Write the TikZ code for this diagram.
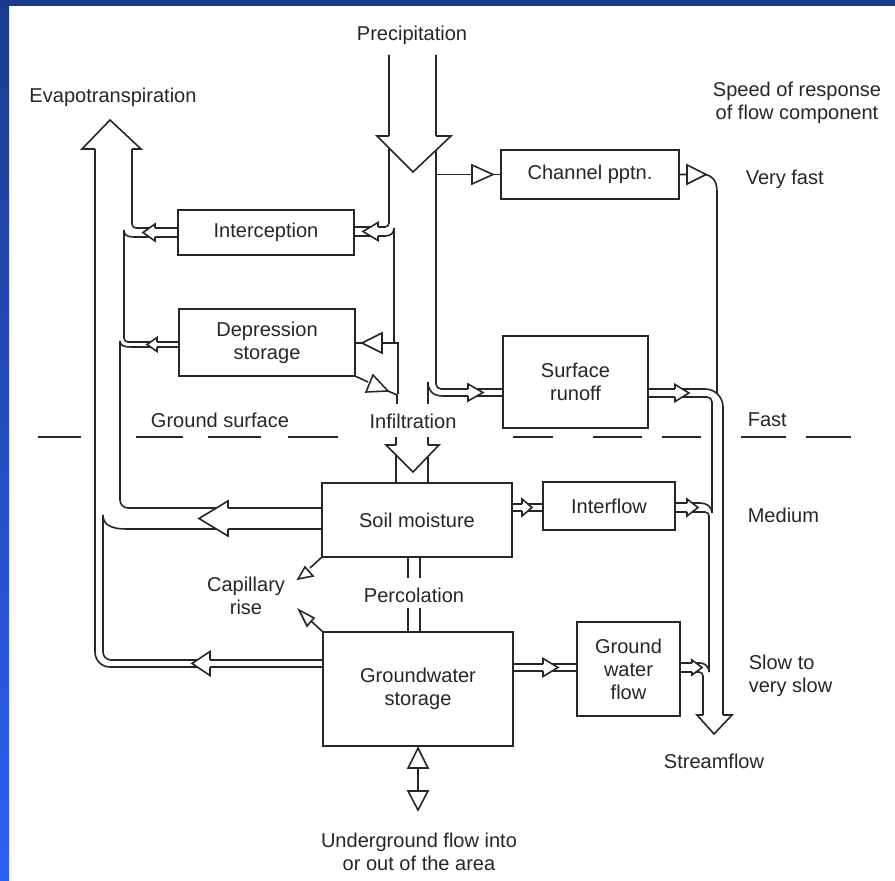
\documentclass[tikz,border=0pt]{standalone}
\usepackage{fontspec}
\setmainfont{Liberation Sans}
\usepackage{tikz}
\definecolor{ink}{RGB}{38,38,38}
\definecolor{frametop}{RGB}{28,58,140}
\definecolor{framelow}{RGB}{44,96,245}

\begin{document}
\begin{tikzpicture}[x = 0.02cm, y = -0.02cm, color = ink, line width = 0.9pt,
    every node/.style = {font = \fontsize{11.4pt}{13.1pt}\selectfont, text = ink, inner sep = 0pt},
    box/.style = {draw = ink, rectangle, outer sep = 0pt, align = center},
    lbl/.style = {align = center, yshift = -0.04cm}]
                \fill[white] (0,0) rectangle (895,881);
                \fill[frametop] (0,0) rectangle (895,6);
                \shade[top color = frametop, bottom color = framelow] (0,0) rectangle (9,881);
                \useasboundingbox (0,0) rectangle (895,881);

                \node[box, minimum width = 3.52cm, minimum height = 0.90cm] (intc) at (266,232.5) {Interception};
                \node[box, minimum width = 3.52cm, minimum height = 1.34cm] (depr) at (267,342.5) {Depression\\storage};
                \node[box, minimum width = 3.56cm, minimum height = 0.98cm] (chan) at (590,174.5) {Channel pptn.};
                \node[box, minimum width = 2.90cm, minimum height = 1.84cm] (surf) at (575.5,382) {Surface\\runoff};
                \node[box, minimum width = 3.80cm, minimum height = 1.48cm] (soil) at (417,520) {Soil moisture};
                \node[box, minimum width = 2.64cm, minimum height = 0.96cm] (intf) at (609,506) {Interflow};
                \node[box, minimum width = 3.80cm, minimum height = 2.28cm] (gws) at (418,689) {Groundwater\\storage};
                \node[box, minimum width = 2.06cm, minimum height = 1.88cm] (gwf) at (628.5,669) {Ground\\water\\flow};

                \node[lbl] (precip) at (412,33) {Precipitation};
                \node[lbl] (evap) at (113,95) {Evapotranspiration};
                \node[lbl] (speed) at (797,101) {Speed of response\\of flow component};
                \node[lbl, anchor = west] (vfast) at (745,177) {Very fast};
                \node[lbl, anchor = west] (fast) at (747,418) {Fast};
                \node[lbl, anchor = west] (medium) at (747,513) {Medium};
                \node[lbl, anchor = west, align = left] (slow) at (748,673.5) {Slow to\\very slow};
                \node[lbl] (ground) at (220,418) {Ground surface};
                \node[lbl] (infil) at (413,419) {Infiltration};
                \node[lbl] (capil) at (246,594) {Capillary\\rise};
                \node[lbl] (perc) at (414,593) {Percolation};
                \node[lbl] (stream) at (714,759) {Streamflow};
                \node[lbl] (under) at (419,850) {Underground flow into\\or out of the area};

                \foreach \a/\b in {38/81, 136/183, 208/261, 288/338, 513/553, 593/642, 662/701, 741/786, 806/851}
                \draw (\a,437) -- (\b,437);

                \draw[rounded corners = 0.3cm] (95,149) -- (95,667) -- (gws.west |- 0,667);
                \draw[rounded corners = 0.16cm] (103,515) -- (103,660) -- (gws.west |- 0,660);
                \draw (soil.west |- 0,529) -- (127,529) .. controls (108,529) and (103,523) .. (103,515);
                \draw[rounded corners = 0.16cm] (soil.west |- 0,508) -- (120,508) -- (120,341);
                \draw (depr.west |- 0,347) -- (131,347) .. controls (123,347) and (120,345) .. (120,341);
                \draw[rounded corners = 0.08cm] (depr.west |- 0,342) -- (124,342) -- (124,230);
                \draw (intc.west |- 0,237) -- (134,237) .. controls (127,237) and (124,235) .. (124,230);
                \draw[rounded corners = 0.08cm] (intc.west |- 0,228) -- (132,228) -- (132,149);

                \draw[rounded corners = 0.08cm] (389,55) -- (389,227) -- (intc.east |- 0,227);
                \draw (intc.east |- 0,236) -- (385,236) .. controls (391,236) and (394,233) .. (394,228) -- (394,343);
                \draw (depr.east |- 0,343) -- (398,343) -- (398,394);
                \draw (depr.south east) -- (368,382);
                \draw (388,391) -- (397,395) -- (397,404);
                \draw[rounded corners = 0.1cm] (436,55) -- (436,389) -- (surf.west |- 0,389);
                \draw (surf.west |- 0,396) -- (443,396) .. controls (432,396) and (428,390) .. (428,382) -- (428,404);
                \draw (396,437) -- (396,483);
                \draw (428,437) -- (428,483);
                \draw (436,174.5) -- (chan.west);
                \draw (chan.east) -- (705,174.5) .. controls (713,176) and (717,181) .. (717,192) -- (717,393);

                \draw[rounded corners = 0.36cm] (surf.east |- 0,389) -- (723,389) -- (723,715);
                \draw[rounded corners = 0.1cm] (surf.east |- 0,397) -- (712,397) -- (712,513);
                \draw (intf.east |- 0,503) -- (700,503) .. controls (707,503) and (712,507) .. (712,513);
                \draw[rounded corners = 0.08cm] (intf.east |- 0,512) -- (709,512) -- (709,672);
                \draw (gwf.east |- 0,663) -- (700,663) .. controls (705,663) and (709,667) .. (709,672);
                \draw[rounded corners = 0.08cm] (gwf.east |- 0,672) -- (703,672) -- (703,715);

                \draw (soil.east |- 0,504) -- (intf.west |- 0,504);
                \draw (soil.east |- 0,511) -- (intf.west |- 0,511);
                \draw (gws.east |- 0,664) -- (gwf.west |- 0,664);
                \draw (gws.east |- 0,671) -- (gwf.west |- 0,671);
                \draw (408,557) -- (408,578);
                \draw (420,557) -- (420,578);
                \draw (408,608) -- (408,632);
                \draw (420,608) -- (420,632);
                \draw (soil.south west) -- (310,568);
                \draw (gws.north west) -- (311,621);
                \draw (418,768) -- (418,791);

                \foreach \bx/\tx/\yc/\hw/\hs in {155/143/232.5/8.5/4.5, 378/363/231.5/9/4.5, 157/147/344.5/7/2.5, 468/483/392.5/8.5/3.5, 675/689/393/8.5/4, 522/532/507.5/8.5/3.5, 687/698/507.5/8.5/4.5, 543/558/667.5/9/3.5, 692/702/667.5/7.5/4.5, 210/192/663.5/12/3.5, 228/199/518.5/17.5/10.5}
                {
                \fill[white] (\bx,\yc-\hw) -- (\tx,\yc) -- (\bx,\yc+\hw) -- cycle;
                \draw (\bx,\yc-\hs) -- (\bx,\yc-\hw) -- (\tx,\yc) -- (\bx,\yc+\hw) -- (\bx,\yc+\hs);
                }

                \fill[white] (82,149) -- (110,120) -- (141,149) -- cycle;
                \draw (95,149) -- (82,149) -- (110,120) -- (141,149) -- (132,149);
                \fill[white] (377,136) -- (413,172) -- (451,136) -- cycle;
                \draw (389,136) -- (377,136) -- (413,172) -- (451,136) -- (436,136);
                \fill[white] (386,445) -- (413,472) -- (439,445) -- cycle;
                \draw (396,445) -- (386,445) -- (413,472) -- (439,445) -- (428,445);
                \fill[white] (697,715) -- (714,734) -- (732,715) -- cycle;
                \draw (703,715) -- (697,715) -- (714,734) -- (732,715) -- (723,715);

                \filldraw[fill = white] (472,165) -- (493,174.5) -- (472,184) -- cycle;
                \filldraw[fill = white] (687,165) -- (706,174.5) -- (687,184) -- cycle;
                \filldraw[fill = white] (382,333) -- (362,343) -- (382,353) -- cycle;
                \filldraw[fill = white] (373,375) -- (388,391) -- (366,392) -- cycle;
                \filldraw[fill = white] (305,567) -- (298,579) -- (313,576) -- cycle;
                \filldraw[fill = white] (307,626) -- (299,610) -- (314,618) -- cycle;
                \filldraw[fill = white] (408,768) -- (418,748) -- (428,768) -- cycle;
                \filldraw[fill = white] (408,791) -- (428,791) -- (418,810) -- cycle;

            \end{tikzpicture}
\end{document}
